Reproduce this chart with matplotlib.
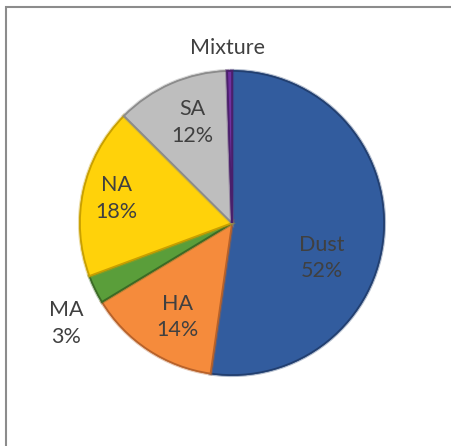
import matplotlib
matplotlib.use("Agg")
import matplotlib.pyplot as plt
from matplotlib.patches import Rectangle
import matplotlib.patheffects as pe

categories = ["Dust", "HA", "MA", "NA", "SA", "Mixture"]
values = [52, 14, 3, 18, 12, 0.5]
pct_labels = ["52%", "14%", "3%", "18%", "12%", ""]
colors = ["#325C9E", "#F58B3C", "#5A9E3A", "#FFD20A", "#BEBEBE", "#7030A0"]
edge_colors = ["#223F70", "#B8622A", "#3B6B25", "#C9A000", "#8C8C8C", "#4A1F6B"]
# label offsets in units of pie radius
label_offsets = [(0.59, -0.23), (-0.36, -0.62), (-1.09, -0.66),
                 (-0.76, 0.16), (-0.26, 0.66), (-0.03, 1.15)]

W, H = 451, 446
fig = plt.figure(figsize=(W / 100, H / 100), dpi=100)
ax = fig.add_axes([0, 0, 1, 1])

cx, cy, R = 232, H - 223, 152
wedges, _ = ax.pie(values, colors=colors, startangle=90, counterclock=False,
                   center=(cx, cy), radius=R, frame=True,
                   wedgeprops=dict(linewidth=1.2))
for w, ec in zip(wedges, edge_colors):
    w.set_edgecolor(ec)
    w.set_path_effects([pe.withStroke(linewidth=3.0, foreground=ec, alpha=0.35),
                        pe.Normal()])
ax.set_xlim(0, W)
ax.set_ylim(0, H)
ax.set_aspect("equal")
ax.axis("off")

for cat, pct, (dx, dy) in zip(categories, pct_labels, label_offsets):
    txt = cat if pct == "" else f"{cat}\n{pct}"
    ax.text(cx + dx * R, cy + dy * R, txt, ha="center", va="center",
            fontsize=15.5, family=["Lato", "DejaVu Sans"], color="#404040",
            linespacing=1.4)

ax.add_patch(Rectangle((6, -10), W + 20, H - 7 + 10, fill=False,
                       edgecolor="#8C8C8C", linewidth=1.5, clip_on=False))

fig.savefig("out.png", dpi=100)
